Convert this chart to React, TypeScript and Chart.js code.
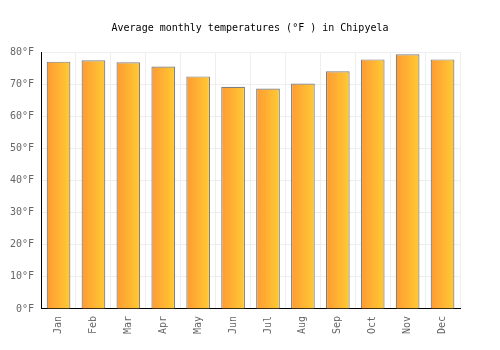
import React, { useEffect, useRef } from "react";
import { Chart, registerables } from "chart.js";

Chart.register(...registerables);

const months = ["Jan", "Feb", "Mar", "Apr", "May", "Jun", "Jul", "Aug", "Sep", "Oct", "Nov", "Dec"];
const tempsF = [77.0, 77.4, 76.8, 75.5, 72.4, 69.2, 68.6, 70.2, 74.0, 77.7, 79.3, 77.7];
const titleText = "Average monthly temperatures (°F ) in Chipyela";

const BAR_PCT = 0.68;

export default function App() {
  const ref = useRef<HTMLCanvasElement>(null);
  useEffect(() => {
    document.body.style.margin = "0";
    const ctx = ref.current!.getContext("2d")!;
    const font = { family: "'DejaVu Sans Mono', monospace", size: 10 };
    const chart = new Chart(ctx, {
      type: "bar",
      data: {
        labels: months,
        datasets: [
          {
            data: tempsF,
            backgroundColor: (c: any) => {
              const ch = c.chart;
              const xs = ch.scales?.x;
              if (!xs || c.dataIndex === undefined) return "#FFB030";
              const cx = xs.getPixelForValue(c.dataIndex);
              const half = ((xs.right - xs.left) / months.length) * BAR_PCT / 2;
              if (!isFinite(cx) || !isFinite(half) || half <= 0) return "#FFB030";
              const g = ch.ctx.createLinearGradient(cx - half, 0, cx + half, 0);
              g.addColorStop(0, "#FF9A33");
              g.addColorStop(1, "#FFCB33");
              return g;
            },
            borderColor: "#808080",
            borderWidth: 1.2,
            categoryPercentage: 1,
            barPercentage: BAR_PCT,
          },
        ],
      },
      options: {
        animation: false,
        responsive: false,
        layout: { padding: { left: 3, right: 3, top: 8, bottom: 9 } },
        plugins: {
          legend: { display: false },
          tooltip: { enabled: false },
          title: {
            display: true,
            text: titleText,
            color: "#000",
            font: { ...font, weight: "normal" },
            padding: { top: 14, bottom: 18 },
          },
        },
        scales: {
          x: {
            grid: { color: "#eeeeee", offset: true, drawTicks: false },
            border: { color: "#000", width: 1 },
            ticks: { color: "#666", font, maxRotation: 90, minRotation: 90, padding: 7 },
          },
          y: {
            min: 0,
            max: 80,
            grid: { color: "#eeeeee", drawTicks: false },
            border: { color: "#000", width: 1 },
            ticks: {
              color: "#666",
              font,
              stepSize: 10,
              padding: 7,
              callback: (v: any) => v + "°F",
            },
          },
          y2: {
            position: "right",
            display: true,
            grid: { display: false, drawTicks: false },
            border: { display: false },
            ticks: { display: false },
            afterFit: (s: any) => {
              s.width = 37;
            },
          },
        },
      },
    });
    return () => chart.destroy();
  }, []);
  return (
    <div style={{ width: 500, height: 350 }}>
      <canvas ref={ref} width={500} height={350} style={{ width: 500, height: 350, display: "block" }} />
    </div>
  );
}
